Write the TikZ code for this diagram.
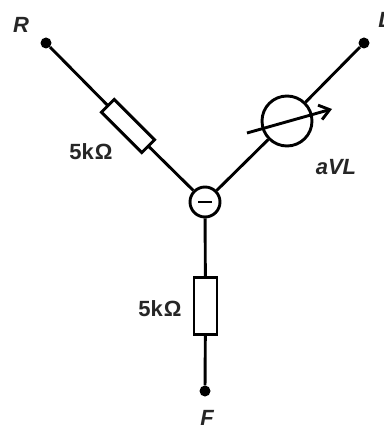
\documentclass[tikz,border=0pt]{standalone}
\usepackage{fontspec}
\setmainfont{Liberation Sans}
\usepackage{tikz}
\usetikzlibrary{arrows.meta, positioning}

\begin{document}
\begin{tikzpicture}[
  x=1pt, y=-1pt,
  wire/.style={line width=2.9pt},
  resistor/.style={draw, line width=2.9pt, fill=white, minimum height=23pt, minimum width=57pt, inner sep=0pt, outer sep=0pt},
  terminal/.style={circle, fill=black, inner sep=0pt, minimum size=11pt},
  meter/.style={draw, circle, line width=2.9pt, fill=white, inner sep=0pt, minimum size=50pt},
  sum/.style={draw, circle, line width=2.9pt, fill=white, inner sep=0pt, minimum size=30pt},
  lbl/.style={font=\bfseries\fontsize{22}{24}\selectfont, inner sep=0pt, text=black!85},
  pin/.style={font=\bfseries\itshape\fontsize{22}{24}\selectfont, inner sep=0pt, text=black!85}
]
\useasboundingbox (0,0) rectangle (383,430);

\node[terminal] (r) at (46,43) {};
\node[terminal] (l) at (364,43) {};
\node[terminal] (f) at (205,391) {};
\node[sum] (star) at (205,202) {};

\node[resistor, rotate=-45, minimum height=18pt] (rr) at (128,126) {};
\node[resistor, rotate=90] (rf) at (205.5,306) {};
\node[meter] (vl) at (287,121) {};

\draw[wire] (r) -- (rr);
\draw[wire] (rr) -- (star);
\draw[wire] (star) -- (rf);
\draw[wire] (rf) -- (f);
\draw[wire] (star) -- (vl);
\draw[wire] (vl) -- (l);

% minus sign and adjust arrow
\draw[wire] (198,202) -- (212,202);
\coordinate (a1) at (247,133);
\coordinate (a2) at (332,109);
\draw[wire, -{Straight Barb[length=10pt, width=15pt]}] (a1) -- (a2);

\node[pin] (tr) at (21,25) {R};
\node[pin] (tl) at (385,20) {L};
\node[pin] (tf) at (207,418) {F};
\node[pin] (tv) at (336,167) {aVL};
\node[lbl] (t1) at (91,152) {5k\kern1ptΩ};
\node[lbl] (t2) at (160,309) {5k\kern1ptΩ};
\end{tikzpicture}
\end{document}
